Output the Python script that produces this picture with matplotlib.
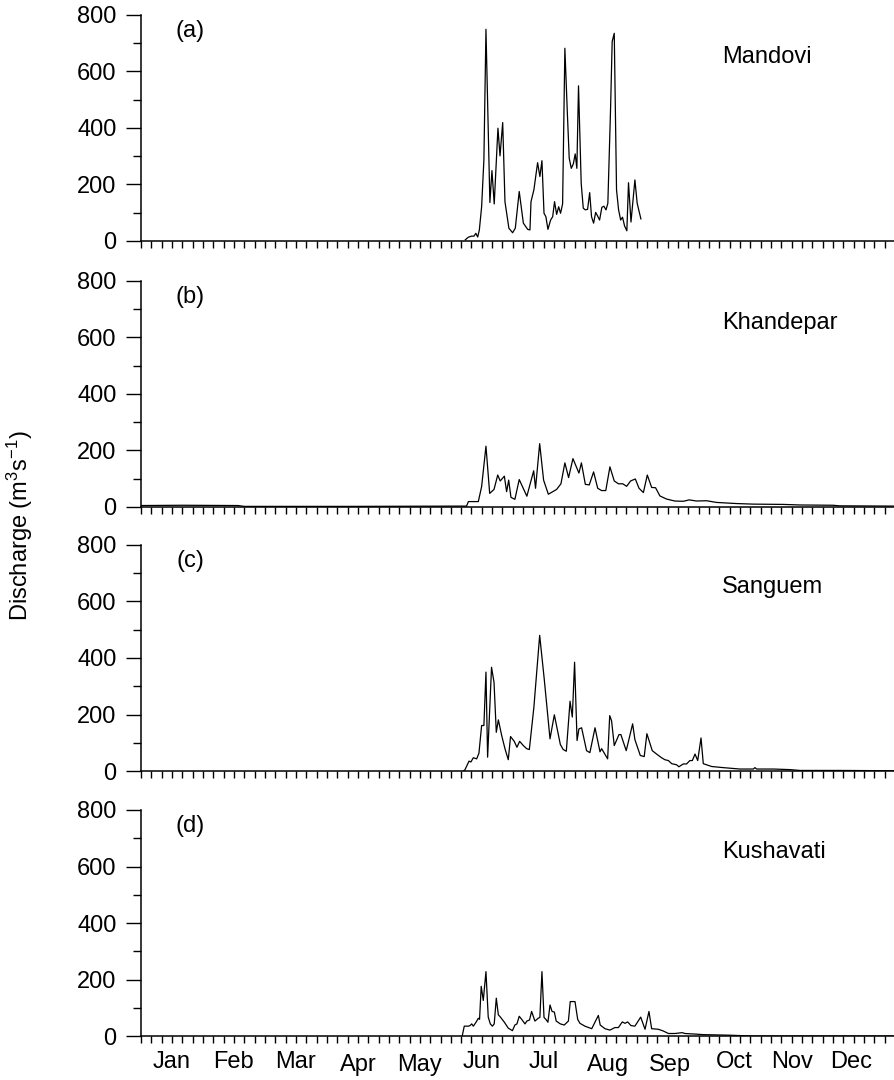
import matplotlib.pyplot as plt
from matplotlib.ticker import MultipleLocator

plt.rcParams['font.family'] = ['Liberation Sans', 'DejaVu Sans']
plt.rcParams['mathtext.fontset'] = 'custom'
plt.rcParams['mathtext.rm'] = 'Liberation Sans'
plt.rcParams['mathtext.it'] = 'Liberation Sans:italic'

months = ['Jan', 'Feb', 'Mar', 'Apr', 'May', 'Jun',
          'Jul', 'Aug', 'Sep', 'Oct', 'Nov', 'Dec']
month_pos = [15, 45, 75, 105, 135, 165, 195, 226, 256, 287, 315, 344]

panel_tags = ['(a)', '(b)', '(c)', '(d)']
rivers = ['Mandovi', 'Khandepar', 'Sanguem', 'Kushavati']

# day of year / discharge (m3/s)
mandovi_day = [157, 158.4, 160, 161.2, 162.1, 163, 163.8, 164.9, 166, 167, 168.9,
               169.9, 171, 172.8, 173.8, 175.1, 176.2, 178.1, 179.9, 181.2, 183.1,
               185.1, 187.2, 188.3, 188.8, 190.2, 192, 193.1, 194.1, 195.1, 196,
               197, 198.3, 199.3, 200.2, 201.2, 202.2, 203.1, 204.1, 205.2, 206.4,
               207.3, 208.3, 209.3, 210.2, 211, 211.8, 213.1, 214.1, 215.1, 216.2,
               217.2, 218.1, 219.1, 220.1, 221, 222, 223.1, 224.1, 225.1, 226,
               227.3, 228.1, 229.1, 230.2, 231.2, 232.2, 233.1, 234.1, 235.2, 236,
               237.2, 239.1, 240.2, 242]
mandovi_q = [4, 13, 17, 17, 27, 14, 39, 121, 287, 749, 136,
             249, 131, 399, 301, 419, 139, 45, 29, 45, 175,
             63, 41, 39, 139, 181, 277, 228, 284, 98, 86,
             41, 74, 86, 139, 94, 121, 98, 131, 682, 452,
             293, 257, 273, 308, 257, 549, 204, 116, 110, 112,
             171, 86, 63, 101, 89, 74, 119, 123, 110, 133,
             464, 706, 735, 181, 110, 74, 84, 53, 36, 206,
             67, 216, 133, 78]

khandepar_day = [0, 20, 47, 50, 100, 155, 157.6, 158.5, 163.3, 164.9, 167, 168.8,
                 170.9, 172.7, 173.9, 175.9, 177, 178, 179.1, 181, 183.1, 186.8,
                 190.1, 191, 193, 194.9, 197.2, 201.2, 203.3, 205.2, 207, 209.1,
                 212, 213.2, 215.1, 217, 219.1, 221.1, 223, 225, 227, 229.1,
                 231.1, 233.2, 235.1, 237, 239.3, 241.1, 243.2, 245.1, 247.2,
                 249.1, 251.2, 254.4, 258.4, 262.5, 265.4, 268.9, 273.8, 278.6,
                 288.3, 296.4, 310.9, 319, 335, 338, 365]
khandepar_q = [5, 6, 5, 2, 2, 3, 3, 19, 19, 72, 215, 48,
               62, 113, 92, 109, 54, 95, 34, 27, 97, 38,
               128, 66, 224, 95, 45, 62, 82, 156, 104, 171,
               120, 156, 80, 78, 124, 66, 58, 58, 142, 92,
               82, 82, 73, 92, 99, 66, 51, 113, 69,
               68, 39, 28, 21, 20, 25, 21, 22, 16,
               12, 10, 9, 7, 6, 4, 3]

sanguem_day = [156, 156.8, 158.8, 159.7, 160.9, 162.5, 163.6, 164.9, 166, 167,
               167.8, 169.7, 170.9, 172, 173, 174.6, 176.2, 177.8, 178.9, 180.7,
               182, 183.3, 185.1, 186.7, 188, 190.2, 193, 195.2, 198, 200.1,
               203, 204.4, 205.9, 207.7, 208.8, 209.9, 211.1, 212, 213.3, 215.7,
               217.3, 219.8, 222.2, 223, 225.9, 226.9, 227.8, 229.1, 231.4, 232.3,
               234.9, 238, 239.1, 241.7, 243.6, 244.9, 247.5, 249.6, 252, 253.6,
               255.3, 256.9, 259.3, 260.4, 262.5, 264.1, 265.7, 266.9, 268.2,
               269.5, 271.1, 272.2, 276.2, 281.8, 286.7, 289.9, 296.4, 297.2,
               298, 306, 314, 319, 338, 365]
sanguem_q = [0, 4, 35, 32, 47, 43, 63, 161, 161, 350,
             49, 367, 314, 137, 181, 126, 79, 40, 122, 105,
             84, 105, 90, 79, 76, 226, 480, 326, 114, 199,
             94, 76, 70, 247, 191, 385, 108, 149, 153, 72,
             65, 153, 68, 79, 43, 196, 178, 90, 129, 129,
             72, 167, 111, 55, 51, 132, 72, 60, 47, 40,
             37, 26, 22, 15, 25, 25, 37, 37, 60,
             37, 117, 26, 16, 12, 9, 7, 7, 12,
             7, 7, 5, 2, 2, 1]

kushavati_day = [155.5, 156.5, 158.5, 159.3, 160.1, 160.9, 162.2, 163.3, 163.9,
                 164.7, 165.7, 167, 168.1, 169.1, 170.1, 171, 172, 173, 173.9,
                 175.9, 177.8, 179.8, 181, 182, 183.1, 184.3, 185.9, 186.8, 188.1,
                 189.1, 190.7, 192.3, 193.1, 194.1, 195.1, 196, 197, 198, 199,
                 200.1, 201, 203, 204.9, 206.9, 207.8, 210.1, 211.4, 212.5, 214.9,
                 218.2, 221.4, 222.3, 224.6, 227, 229.4, 231.1, 233, 234.3, 235.6,
                 237.2, 239.1, 241.9, 244, 245.9, 247.2, 250.4, 252.8, 255.3,
                 258.5, 262, 263.3, 268.2, 272.2, 285, 296, 365]
kushavati_q = [0, 35, 35, 37, 43, 35, 49, 63, 59,
               176, 126, 228, 67, 43, 35, 43, 134, 75, 68,
               49, 28, 19, 39, 43, 70, 59, 43, 53, 57,
               87, 53, 63, 66, 228, 66, 59, 49, 110, 87,
               85, 53, 43, 39, 53, 122, 122, 59, 45, 35,
               26, 73, 39, 26, 21, 30, 30, 50, 45, 50,
               37, 35, 67, 24, 87, 26, 24, 18, 9,
               9, 12, 9, 7, 5, 3, 0, 0]

series = [(mandovi_day, mandovi_q), (khandepar_day, khandepar_q),
          (sanguem_day, sanguem_q), (kushavati_day, kushavati_q)]

fig = plt.figure(figsize=(8.95, 10.8), dpi=100)
bottoms = [0.7769, 0.5306, 0.2861, 0.0407]
fs = 17

axes = []
for i, (days, q) in enumerate(series):
    ax = fig.add_axes([0.1575, bottoms[i], 0.8425, 0.2093])
    ax.plot(days, q, color='black', lw=0.9)
    ax.set_xlim(0, 365)
    ax.set_ylim(0, 800)
    for s in ['top', 'right']:
        ax.spines[s].set_visible(False)
    ax.spines['left'].set_linewidth(1.1)
    ax.spines['bottom'].set_linewidth(1.1)
    ax.yaxis.set_major_locator(MultipleLocator(200))
    ax.yaxis.set_minor_locator(MultipleLocator(100))
    ax.xaxis.set_major_locator(MultipleLocator(5))
    ax.tick_params(axis='y', which='major', length=10.5, width=1.0, pad=7, labelsize=fs)
    ax.tick_params(axis='y', which='minor', length=5.5, width=1.0)
    ax.tick_params(axis='x', which='major', length=5.3, width=1.0, labelbottom=False)
    ax.text(0.065, 0.93, panel_tags[i], transform=ax.transAxes,
            ha='center', va='center', fontsize=fs)
    ax.text(0.771, 0.813, rivers[i], transform=ax.transAxes,
            ha='left', va='center', fontsize=fs)
    axes.append(ax)

# month names under the bottom panel (ones with descenders sit a bit lower)
low = {'Apr', 'May', 'Aug', 'Sep'}
for m, pos in zip(months, month_pos):
    off = -13.0 if m in low else -10.5
    axes[-1].annotate(m, xy=(pos, 0), xycoords=('data', 'axes fraction'),
                      xytext=(0, off), textcoords='offset points',
                      ha='center', va='top', fontsize=fs, annotation_clip=False)

fig.text(0.022, 1 - 526 / 1080, 'Discharge (m$^3$s$^{-1}$)', rotation=90,
         ha='center', va='center', fontsize=fs)

fig.savefig('out.png', dpi=100)
